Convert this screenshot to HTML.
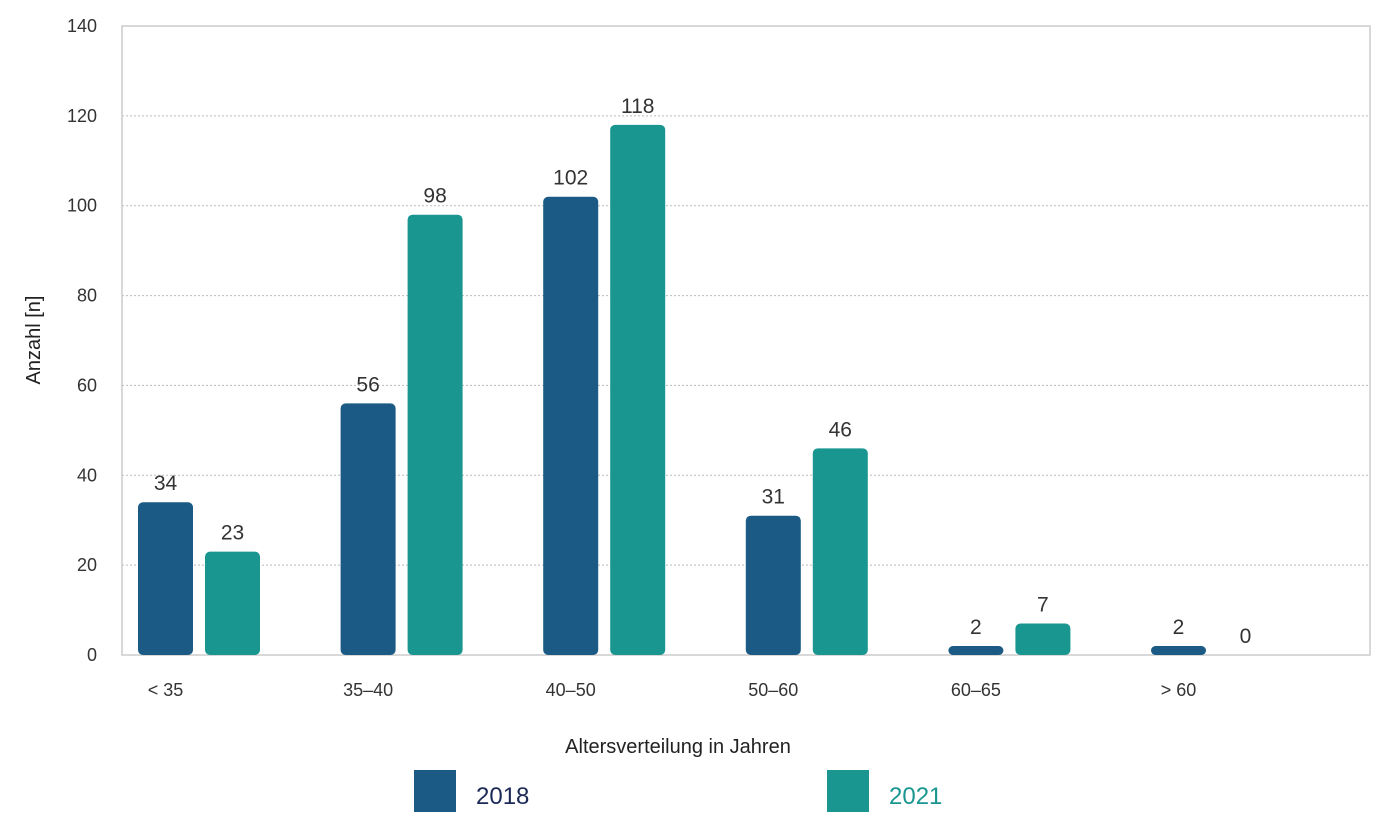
<!DOCTYPE html>
<html><head><meta charset="utf-8"><style>
body{margin:0;background:#fff;font-family:"Liberation Sans",sans-serif}
</style></head><body>
<svg id="chart" width="1400" height="823" xmlns="http://www.w3.org/2000/svg" font-family="Liberation Sans, sans-serif"></svg>
<script>
const categories=["< 35","35–40","40–50","50–60","60–65","> 60"];
const series2018=[34,56,102,31,2,2];
const series2021=[23,98,118,46,7,0];
const yTicks=[0,20,40,60,80,100,120,140];
const svg=document.getElementById('chart');
const NS='http://www.w3.org/2000/svg';
const L=122,R=1370,T=26,B=655,yMax=140;
const y=v=>B-(v/yMax)*(B-T);
const groupX=i=>138+i*202.6;
const bw=55;
function mk(tag,attrs,txt){const e=document.createElementNS(NS,tag);for(const k in attrs)e.setAttribute(k,attrs[k]);if(txt!==undefined)e.textContent=txt;svg.appendChild(e);return e;}
yTicks.forEach(t=>{
  if(t>0&&t<yMax){const g=mk('line',{x1:L,x2:R,y1:y(t),y2:y(t),stroke:'#bbb','stroke-dasharray':'2,2'});
  
  }
  const tl=mk('text',{x:97,y:y(t)+6,'text-anchor':'end','font-size':18,fill:'#333'},t);
  
  
});
const fr=mk('rect',{x:L,y:T,width:R-L,height:B-T,fill:'none',stroke:'#ccc','stroke-width':1.5});


function bar(v,x,color){
  const h=Math.max(B-y(v),0);
  if(h>0){const r=mk('rect',{x:x,y:y(v),width:bw,height:h,rx:Math.min(5,h/2),fill:color});
  
  }
  const l=mk('text',{x:x+bw/2,y:y(v)-12,'text-anchor':'middle','font-size':21,fill:'#333'},v);
  
  
}
categories.forEach((c,i)=>{
  const gx=groupX(i);
  bar(series2018[i],gx,'#1b5a84');
  bar(series2021[i],gx+67,'#1a9690');
  const cl=mk('text',{x:gx+bw/2,y:696,'text-anchor':'middle','font-size':18,fill:'#333'},c);
  
  
});
const xt=mk('text',{x:678,y:753,'text-anchor':'middle','font-size':20,fill:'#222'},'Altersverteilung in Jahren');


const yt=mk('text',{x:0,y:0,transform:'translate(40,340) rotate(-90)','text-anchor':'middle','font-size':20,fill:'#222'},'Anzahl [n]');


[[414,'#1b5a84','2018','#1b2a55'],[827,'#1a9690','2021','#1a9690']].forEach(([x,c,t,tc])=>{
  const s=mk('rect',{x:x,y:770,width:42,height:42,fill:c});
  
  
  const lt=mk('text',{x:x+62,y:804,'font-size':24,fill:tc},t);
  
  
});
</script>
</body></html>
